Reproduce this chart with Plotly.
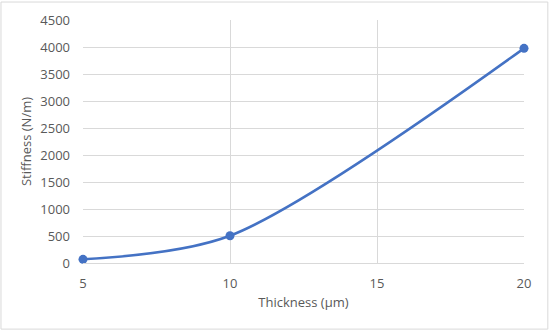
import plotly.graph_objects as go

thickness = [5, 10, 20]
stiffness = [68, 505, 3975]

x_ticks = [5, 10, 15, 20]
y_ticks = [0, 500, 1000, 1500, 2000, 2500, 3000, 3500, 4000, 4500]

FONT = "Open Sans, sans-serif"
GRID = "#d9d9d9"
TXT = "#595959"

fig = go.Figure()
fig.add_trace(go.Scatter(
    x=thickness, y=stiffness, mode="lines+markers",
    line=dict(color="#4472c4", width=2.5, shape="spline", smoothing=0.85),
    marker=dict(color="#4472c4", size=9),
    cliponaxis=False, showlegend=False,
))

fig.update_layout(
    width=550, height=332,
    margin=dict(l=83, r=26, t=20, b=69),
    paper_bgcolor="white", plot_bgcolor="white",
    font=dict(family=FONT, size=13, color=TXT),
    xaxis=dict(title=dict(text="Thickness (μm)", font=dict(size=13, color=TXT), standoff=7),
               range=[5, 20], tickvals=x_ticks, showgrid=True, gridcolor=GRID,
               zeroline=False, showline=True, linecolor=GRID, ticks="",
               ticklabelstandoff=8, automargin=False),
    yaxis=dict(title=dict(text="Stiffness (N/m)", font=dict(size=13, color=TXT), standoff=5),
               range=[0, 4500], tickvals=y_ticks, showgrid=True, gridcolor=GRID,
               zeroline=False, showline=False, ticks="", ticklabelstandoff=12,
               automargin=False),
    shapes=[dict(type="rect", xref="paper", yref="paper",
                 x0=-0.186, x1=1.054, y0=-0.272, y1=1.074,
                 line=dict(color=GRID, width=1), layer="below")],
)

# page body has a default 8px margin; drop it so the figure sits at the window edge
fig.write_html("out.html", config={"displayModeBar": False},
               post_script="document.body.style.margin='0';")
